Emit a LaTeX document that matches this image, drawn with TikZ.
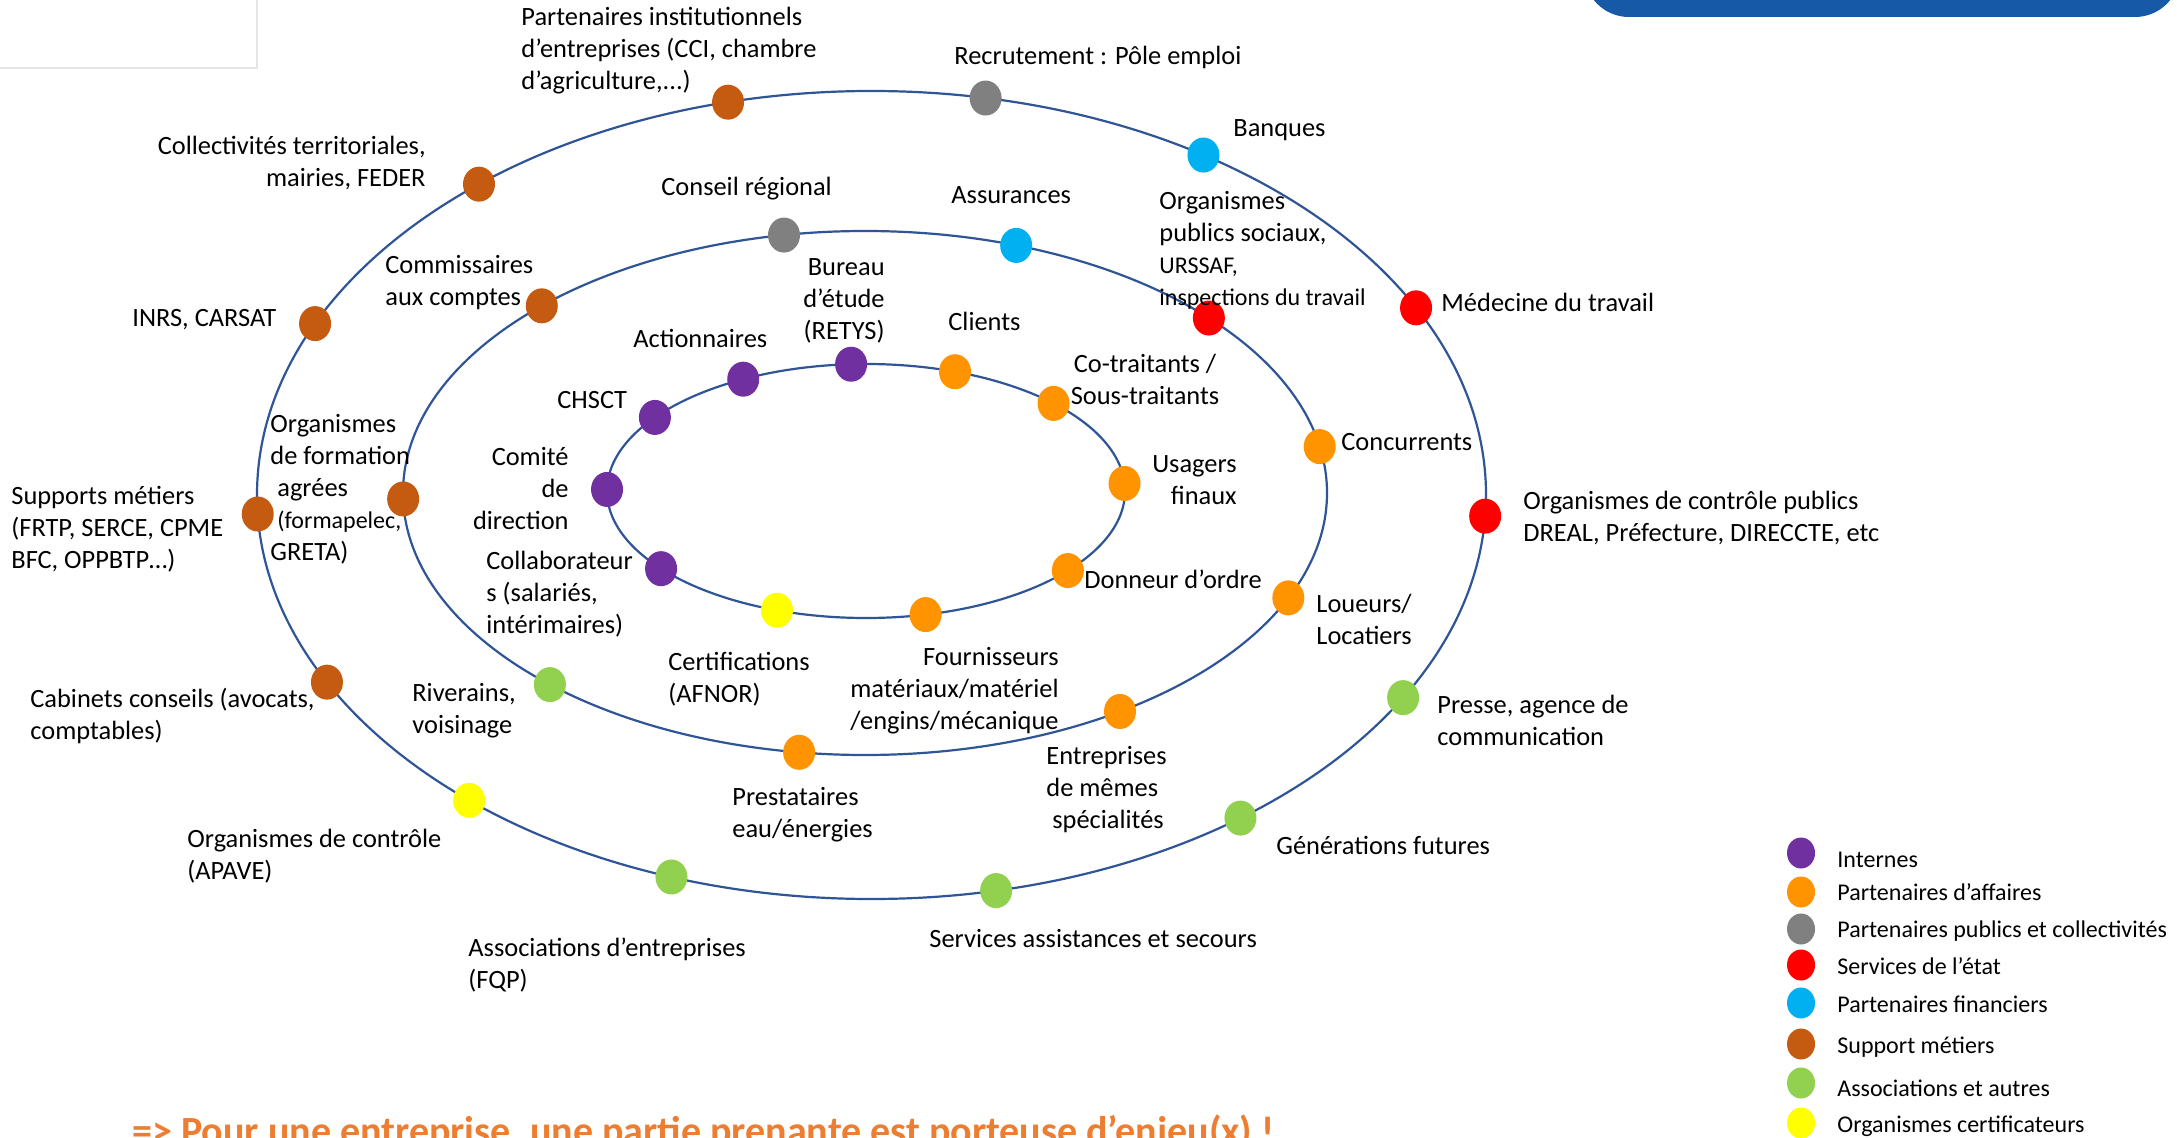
\documentclass[tikz,border=0pt]{standalone}
\usepackage{fontspec}
\setmainfont{Carlito}
\usetikzlibrary{shapes.geometric}
\definecolor{cPurple}{HTML}{7030A0}
\definecolor{cOrange}{HTML}{FF9300}
\definecolor{cGray}{HTML}{808080}
\definecolor{cRed}{HTML}{FF0000}
\definecolor{cBlue}{HTML}{00B0F0}
\definecolor{cBrown}{HTML}{C55A11}
\definecolor{cGreen}{HTML}{92D050}
\definecolor{cYellow}{HTML}{FFFF00}
\definecolor{cLine}{HTML}{2F5597}
\definecolor{cTitle}{HTML}{1559A7}
\definecolor{cNote}{HTML}{ED7D31}
\newcommand\lblfont{\fontsize{13.2}{16}\selectfont}
\newcommand\smfont{\fontsize{12}{14.6}\selectfont}
\begin{document}
\begin{tikzpicture}[x=0.5pt,y=-0.5pt,
  dot/.style={ellipse, minimum width=16pt, minimum height=17.5pt, inner sep=0pt, fill=#1},
  ldot/.style={ellipse, minimum width=14pt, minimum height=15.5pt, inner sep=0pt, fill=#1},
  lbl/.style={font=\lblfont, inner sep=0pt, align=left, anchor=north west, yshift=7pt},
  lblr/.style={lbl, align=right, anchor=north east},
  lblc/.style={lbl, align=center, anchor=north},
  ring/.style={draw=cLine, line width=1.1pt},
  legtxt/.style={font=\fontsize{12}{14}\selectfont, inner sep=0pt, anchor=base west},
]
\useasboundingbox (0,0) rectangle (2177,1138);
\clip (0,0) rectangle (2177,1138);
\fill[white] (0,0) rectangle (2177,1138);

% top-left frame and top-right banner
\draw[black!10, line width=0.6pt] (-4,-4) rectangle (257,68);
\fill[cTitle, rounded corners=22.5pt] (1584,-60) rectangle (2180,17);

% rings
\coordinate (Co) at (871.5,495);
\coordinate (Cm) at (865,493);
\coordinate (Ci) at (866,491);
\draw[ring] (Co) ellipse [x radius=307.25pt, y radius=202pt];
\draw[ring] (Cm) ellipse [x radius=231pt, y radius=131pt];
\draw[ring] (Ci) ellipse [x radius=129.5pt, y radius=63.5pt];

% ring dots
\newcommand\od[3]{\node[dot=#1] (#2) at ([shift={(#3:307.25pt and 202pt)}]Co) {};}
\newcommand\md[3]{\node[dot=#1] (#2) at ([shift={(#3:231pt and 131pt)}]Cm) {};}
\newcommand\id[3]{\node[dot=#1] (#2) at ([shift={(#3:129.5pt and 63.5pt)}]Ci) {};}
\od{cBrown}{pinst}{103.5}
\od{cGray}{recru}{79.3}
\od{cBlue}{banq}{57.3}
\od{cRed}{medec}{27.6}
\od{cRed}{orgpub}{-3.0}
\od{cGreen}{presse}{-30.1}
\od{cGreen}{genfut}{-53.1}
\od{cGreen}{servas}{-78.3}
\od{cGreen}{assoc}{-109.0}
\od{cYellow}{apave}{-130.9}
\od{cBrown}{cabin}{-152.4}
\od{cBrown}{supp}{182.7}
\od{cBrown}{inrs}{154.9}
\od{cBrown}{collect}{129.7}
\md{cGray}{conseil}{100.1}
\md{cBlue}{assur}{70.9}
\md{cRed}{orgsoc}{41.9}
\md{cOrange}{concur}{10.2}
\md{cOrange}{loueur}{-23.6}
\md{cOrange}{entrep}{-56.5}
\md{cOrange}{presta}{-98.2}
\md{cGreen}{river}{-133.0}
\md{cBrown}{form}{181.3}
\md{cBrown}{commis}{134.4}
\id{cPurple}{bureau}{93.3}
\id{cOrange}{clients}{69.9}
\id{cOrange}{cotrait}{43.6}
\id{cOrange}{usagers}{3.4}
\id{cOrange}{donneur}{-38.8}
\id{cOrange}{fourn}{-76.7}
\id{cYellow}{certif}{-110.1}
\id{cPurple}{collab}{-142.3}
\id{cPurple}{comite}{179.3}
\id{cPurple}{chsct}{144.6}
\id{cPurple}{action}{118.3}

% labels
\node[lbl] (tpinst) at (521,17) {\strut Partenaires institutionnels\\d’entreprises (CCI, chambre\\d’agriculture,...)};
\node[lbl] (trecru) at (954,56) {\strut Recrutement : Pôle emploi};
\node[lbl] (tbanq) at (1233,128) {\strut Banques};
\node[lblr] (tcollect) at (426,146) {\strut Collectivités territoriales,\\mairies, FEDER};
\node[lbl] (tconseil) at (661,187) {\strut Conseil régional};
\node[lbl] (tassur) at (951,195) {\strut Assurances};
\node[lbl] (torgsoc) at (1159,201) {\strut Organismes\\publics sociaux,\\{\smfont URSSAF,}\\{\smfont inspections du travail}};
\node[lbl] (tmedec) at (1441,303) {\strut Médecine du travail};
\node[lbl] (tcommis) at (385,265) {\strut Commissaires\\aux comptes};
\node[lbl] (tinrs) at (132,318) {\strut INRS, CARSAT};
\node[lblr] (tbureau) at (885,267) {\strut Bureau\\d’étude\\(RETYS)};
\node[lbl] (taction) at (633,339) {\strut Actionnaires};
\node[lbl] (tclients) at (948,322) {\strut Clients};
\node[lblc] (tcotrait) at (1145,364) {\strut Co-traitants /\\Sous-traitants};
\node[lbl] (tchsct) at (557,400) {\strut CHSCT};
\node[lblr] (tcomite) at (569,457) {\strut Comité\\de\\direction};
\node[lblr] (tusagers) at (1237,464) {\strut Usagers\\finaux};
\node[lbl] (tconcur) at (1341,442) {\strut Concurrents};
\node[lbl] (torgpub) at (1523,501) {\strut Organismes de contrôle publics\\DREAL, Préfecture, DIRECCTE, etc};
\node[lbl] (tsupp) at (11,496) {\strut Supports métiers\\(FRTP, SERCE, CPME\\BFC, OPPBTP…)};
\node[lbl] (tform) at (270,424) {\strut Organismes\\de formation\\\hspace*{3.5pt}agrées\\\hspace*{3.5pt}{\smfont (formapelec,}\\GRETA)};
\node[lbl] (tcollab) at (486,561) {\strut Collaborateur\\s (salariés,\\intérimaires)};
\node[lbl] (tdonneur) at (1084,580) {\strut Donneur d’ordre};
\node[lbl] (tloueur) at (1316,604) {\strut Loueurs/\\Locatiers};
\node[lbl] (tcertif) at (668,662) {\strut Certifications\\(AFNOR)};
\node[lblr] (tfourn) at (1059,657) {\strut Fournisseurs\\matériaux/matériel\\/engins/mécanique};
\node[lbl] (triver) at (412,693) {\strut Riverains,\\voisinage};
\node[lbl] (tcabin) at (30,699) {\strut Cabinets conseils (avocats,\\comptables)};
\node[lbl] (tpresse) at (1437,705) {\strut Presse, agence de\\communication};
\node[lbl] (tentrep) at (1046,756) {\strut Entreprises\\de mêmes\\\hspace*{3pt}spécialités};
\node[lbl] (tpresta) at (732,797) {\strut Prestataires\\eau/énergies};
\node[lbl] (tapave) at (187,839) {\strut Organismes de contrôle\\(APAVE)};
\node[lbl] (tgenfut) at (1276,846) {\strut Générations futures};
\node[lbl] (tservas) at (929,939) {\strut Services assistances et secours};
\node[lbl] (tassoc) at (468,948) {\strut Associations d’entreprises\\(FQP)};

% legend
\node[ldot=cPurple] (l1) at (1801,853) {};
\node[ldot=cOrange] (l2) at (1801,892) {};
\node[ldot=cGray]   (l3) at (1801,929) {};
\node[ldot=cRed]    (l4) at (1801,965) {};
\node[ldot=cBlue]   (l5) at (1801,1003) {};
\node[ldot=cBrown]  (l6) at (1801,1044) {};
\node[ldot=cGreen]  (l7) at (1801,1083) {};
\node[ldot=cYellow] (l8) at (1801,1123) {};
\node[legtxt] (lt1) at (1837,867) {Internes};
\node[legtxt] (lt2) at (1837,900) {Partenaires d’affaires};
\node[legtxt] (lt3) at (1837,937) {Partenaires publics et collectivités};
\node[legtxt] (lt4) at (1837,974) {Services de l’état};
\node[legtxt] (lt5) at (1837,1012) {Partenaires financiers};
\node[legtxt] (lt6) at (1837,1053) {Support métiers};
\node[legtxt] (lt7) at (1837,1096) {Associations et autres};
\node[legtxt] (lt8) at (1837,1132) {Organismes certificateurs};

% bottom note (cut by the lower edge, as in the reference)
\node[font=\fontsize{20}{22}\selectfont\bfseries, text=cNote, anchor=base west, inner sep=0pt] (note) at (132,1144) {=> Pour une entreprise, une partie prenante est porteuse d’enjeu(x) !};
\end{tikzpicture}
\end{document}
